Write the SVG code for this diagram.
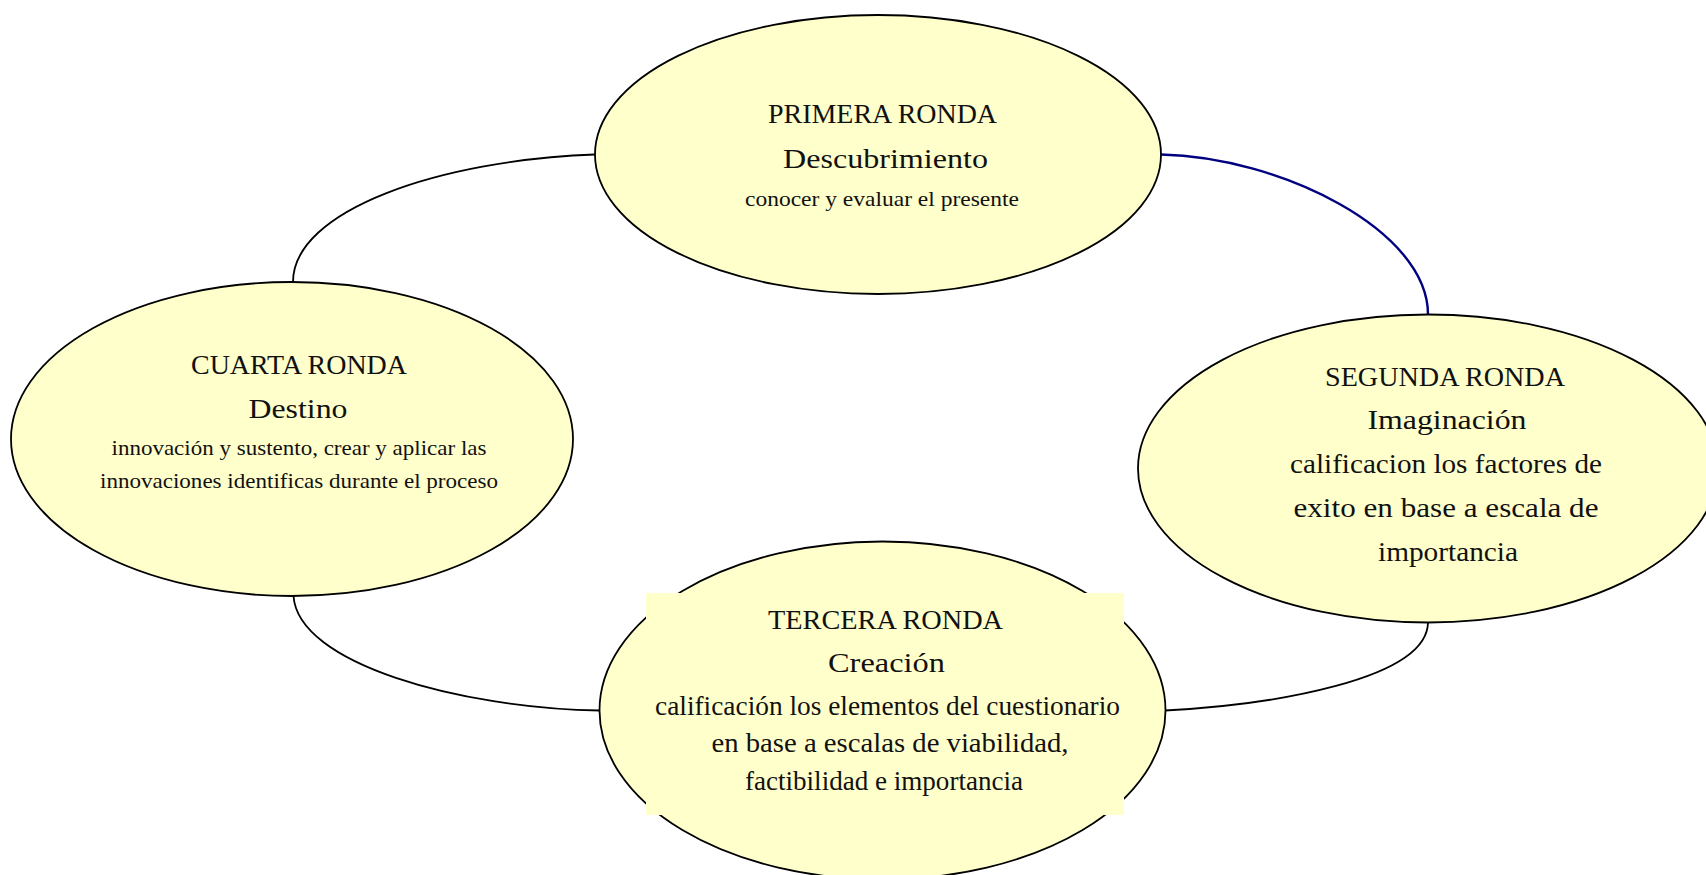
<svg xmlns="http://www.w3.org/2000/svg" width="1706" height="875" viewBox="0 0 1706 875">
<style>
.node ellipse{fill:#ffffcc;stroke:#000;stroke-width:1.8}
.bg{fill:#ffffcc;stroke:none}
.edge{fill:none;stroke:#000;stroke-width:1.8}
.edge.blue{stroke:#000080;stroke-width:2.4}
text{font-family:"Liberation Serif","Times New Roman",serif;fill:#111;text-anchor:middle}
.t1{font-size:28px}
.t2{font-size:27px}
.t3{font-size:22px}
.t4{font-size:21px}
</style>
<rect width="1706" height="875" fill="#fff"/>
<g id="connectors">
<path class="edge" d="M595,154.5 C440,160 293,210 293,282"/>
<path class="edge blue" d="M1161,154.5 C1280,157 1428,230 1428,314.5"/>
<path class="edge" d="M1428,622 C1428,680 1270,705 1165,710.5"/>
<path class="edge" d="M293.5,596 C298,664 460,708 599.5,710.5"/>
</g>
<g id="primera" class="node">
<ellipse cx="878" cy="154.5" rx="283" ry="139.5"/>
<text class="t1" x="882.5" y="123" textLength="229" lengthAdjust="spacingAndGlyphs">PRIMERA RONDA</text>
<text class="t2" x="885.5" y="168" textLength="205" lengthAdjust="spacingAndGlyphs">Descubrimiento</text>
<text class="t4" x="882" y="206" textLength="274" lengthAdjust="spacingAndGlyphs">conocer y evaluar el presente</text>
</g>
<g id="segunda" class="node">
<ellipse cx="1428" cy="468.5" rx="290" ry="154"/>
<text class="t1" x="1445" y="386" textLength="240" lengthAdjust="spacingAndGlyphs">SEGUNDA RONDA</text>
<text class="t2" x="1447" y="429" textLength="159" lengthAdjust="spacingAndGlyphs">Imaginación</text>
<text class="t2" x="1446" y="473" textLength="312" lengthAdjust="spacingAndGlyphs">calificacion los factores de</text>
<text class="t2" x="1446" y="517" textLength="305" lengthAdjust="spacingAndGlyphs">exito en base a escala de</text>
<text class="t2" x="1448" y="561" textLength="140" lengthAdjust="spacingAndGlyphs">importancia</text>
</g>
<g id="tercera" class="node">
<ellipse cx="882.5" cy="710.5" rx="283" ry="169"/>
<rect class="bg" x="646" y="593" width="478" height="222"/>
<text class="t1" x="885.5" y="629" textLength="235" lengthAdjust="spacingAndGlyphs">TERCERA RONDA</text>
<text class="t2" x="886.5" y="672" textLength="117" lengthAdjust="spacingAndGlyphs">Creación</text>
<text class="t2" x="887.5" y="715" textLength="465" lengthAdjust="spacingAndGlyphs">calificación los elementos del cuestionario</text>
<text class="t2" x="890" y="752" textLength="357" lengthAdjust="spacingAndGlyphs">en base a escalas de viabilidad,</text>
<text class="t2" x="884" y="790" textLength="278" lengthAdjust="spacingAndGlyphs">factibilidad e importancia</text>
</g>
<g id="cuarta" class="node">
<ellipse cx="292" cy="439" rx="281" ry="157"/>
<text class="t1" x="299" y="373.5" textLength="216" lengthAdjust="spacingAndGlyphs">CUARTA RONDA</text>
<text class="t2" x="298" y="418" textLength="99" lengthAdjust="spacingAndGlyphs">Destino</text>
<text class="t3" x="299" y="455" textLength="375" lengthAdjust="spacingAndGlyphs">innovación y sustento, crear y aplicar las</text>
<text class="t3" x="299" y="487.5" textLength="398" lengthAdjust="spacingAndGlyphs">innovaciones identificas durante el proceso</text>
</g>
</svg>
